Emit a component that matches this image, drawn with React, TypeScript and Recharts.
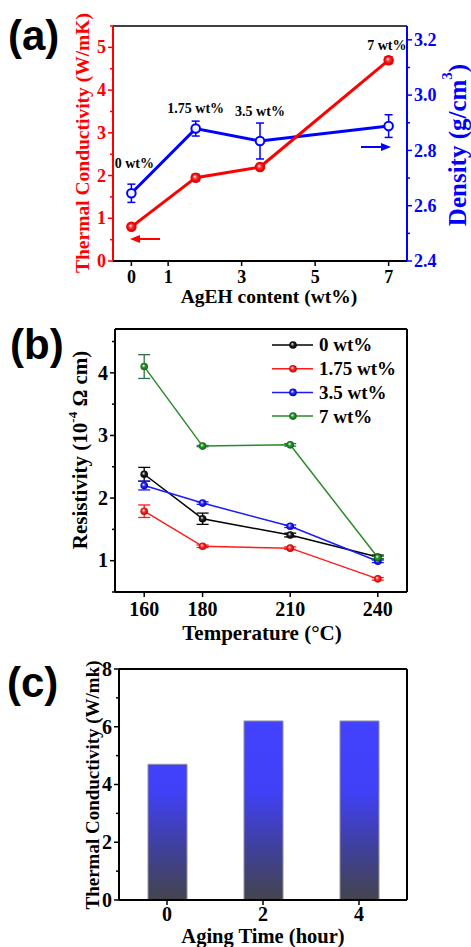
import {
  Bar,
  BarChart,
  ErrorBar,
  Line,
  LineChart,
  ReferenceDot,
  ReferenceLine,
  XAxis,
  YAxis,
} from "recharts";

const SERIF = "'Liberation Serif', 'Times New Roman', serif";
const SANS = "'Liberation Sans', Arial, sans-serif";

// (a) thermal conductivity + density vs AgEH content
const agehContent = [0, 1.75, 3.5, 7];
const contentLabels = ["0 wt%", "1.75 wt%", "3.5 wt%", "7 wt%"];
const thermalCond = [0.8, 1.95, 2.2, 4.7];
const thermalCondErr = [0.05, 0.08, 0.04, 0.08];
const density = [2.645, 2.879, 2.834, 2.888];
const densityErr = [0.033, 0.027, 0.065, 0.041];
const contentTicks = [0, 1, 3, 5, 7];
const condTicksA = [0, 0.5, 1, 1.5, 2, 2.5, 3, 3.5, 4, 4.5, 5, 5.5];
const densityTicks = [2.4, 2.5, 2.6, 2.7, 2.8, 2.9, 3.0, 3.1, 3.2];

// (b) resistivity vs temperature
const temperatures = [160, 180, 210, 240];
const res0 = [2.38, 1.67, 1.41, 1.06];
const res0Err = [0.11, 0.09, 0.03, 0.03];
const res175 = [1.79, 1.23, 1.2, 0.71];
const res175Err = [0.1, 0.02, 0.02, 0.02];
const res35 = [2.2, 1.92, 1.55, 0.99];
const res35Err = [0.07, 0.02, 0.02, 0.02];
const res7 = [4.1, 2.83, 2.85, 1.05];
const res7Err = [0.19, 0.01, 0.02, 0.02];
const tempTicks = [160, 180, 210, 240];
const resistTicks = [0.5, 1, 1.5, 2, 2.5, 3, 3.5, 4, 4.5];

// (c) thermal conductivity vs aging time
const agingTime = [0, 2, 4];
const agingCond = [4.7, 6.2, 6.2];
const agingTicks = [0, 2, 4];
const condTicksC = [0, 1, 2, 3, 4, 5, 6, 7, 8];

const dataA = agehContent.map((x, i) => ({
  x,
  tc: thermalCond[i],
  tcErr: thermalCondErr[i],
  den: density[i],
  denErr: densityErr[i],
}));

const dataB = temperatures.map((t, i) => ({
  t,
  r0: res0[i],
  e0: res0Err[i],
  r175: res175[i],
  e175: res175Err[i],
  r35: res35[i],
  e35: res35Err[i],
  r7: res7[i],
  e7: res7Err[i],
}));

const dataC = agingTime.map((x, i) => ({ x, v: agingCond[i] }));

const seriesB = [
  { key: "r0", err: "e0", name: "0 wt%", color: "#000000", errColor: "#000000", grad: "gBlack" },
  { key: "r175", err: "e175", name: "1.75 wt%", color: "#ff1a1a", errColor: "#ff1a1a", grad: "gRed" },
  { key: "r35", err: "e35", name: "3.5 wt%", color: "#1a1aff", errColor: "#1a1aff", grad: "gBlue" },
  { key: "r7", err: "e7", name: "7 wt%", color: "#2a8a2a", errColor: "#2f6f4f", grad: "gGreen" },
];

type TickOpts = {
  side: "left" | "right";
  color: string;
  fontSize: number;
  isMajor: (v: number) => boolean;
  fmt: (v: number) => string;
};

function makeYTick(o: TickOpts) {
  return (p: any) => {
    const v = p.payload.value as number;
    const major = o.isMajor(v);
    const len = major ? 5 : 3;
    const dir = o.side === "left" ? -1 : 1;
    return (
      <g>
        <line x1={p.x} x2={p.x + dir * len} y1={p.y} y2={p.y} stroke={o.color} strokeWidth={1.5} />
        {major && (
          <text
            x={p.x + dir * (len + 2)}
            y={p.y}
            dy="0.34em"
            textAnchor={o.side === "left" ? "end" : "start"}
            fill={o.color}
            fontFamily={SERIF}
            fontWeight={700}
            fontSize={o.fontSize}
          >
            {o.fmt(v)}
          </text>
        )}
      </g>
    );
  };
}

function makeXTick(fontSize: number, offset: number) {
  return (p: any) => (
    <g>
      <line x1={p.x} x2={p.x} y1={p.y} y2={p.y + 5} stroke="#000" strokeWidth={1.5} />
      <text
        x={p.x}
        y={p.y + offset}
        textAnchor="middle"
        fill="#000"
        fontFamily={SERIF}
        fontWeight={700}
        fontSize={fontSize}
      >
        {p.payload.value}
      </text>
    </g>
  );
}

const isInt = (v: number) => Math.abs(v - Math.round(v)) < 1e-6;
const isEvenTenth = (v: number) => Math.round(v * 10) % 2 === 0;

function Gloss({ id, color, dark }: { id: string; color: string; dark: string }) {
  return (
    <radialGradient id={id} cx="0.5" cy="0.5" r="0.5" fx="0.38" fy="0.35">
      <stop offset="0%" stopColor="#ffffff" />
      <stop offset="45%" stopColor={color} />
      <stop offset="100%" stopColor={dark} />
    </radialGradient>
  );
}

function PanelA() {
  return (
    <LineChart width={471} height={310} data={dataA} margin={{ top: 26, right: 14, bottom: 19, left: 73 }}>
      <defs>
        <Gloss id="aRed" color="#ff3030" dark="#d00000" />
      </defs>
      <XAxis
        type="number"
        dataKey="x"
        domain={[-0.5, 7.5]}
        ticks={contentTicks}
        interval={0}
        height={30}
        axisLine={{ stroke: "#000", strokeWidth: 2 }}
        tickLine={false}
        tickSize={0}
        tickMargin={0}
        tick={makeXTick(18, 22)}
      />
      <YAxis
        yAxisId="tc"
        type="number"
        domain={[0, 5.5]}
        ticks={condTicksA}
        interval={0}
        width={40}
        axisLine={{ stroke: "#ff0000", strokeWidth: 2 }}
        tickLine={false}
        tickSize={0}
        tickMargin={0}
        tick={makeYTick({ side: "left", color: "#ff0000", fontSize: 18, isMajor: isInt, fmt: (v) => String(v) })}
      />
      <YAxis
        yAxisId="den"
        orientation="right"
        type="number"
        domain={[2.4, 3.25]}
        ticks={densityTicks}
        interval={0}
        width={50}
        axisLine={{ stroke: "#0000ff", strokeWidth: 2 }}
        tickLine={false}
        tickSize={0}
        tickMargin={0}
        tick={makeYTick({ side: "right", color: "#0000ff", fontSize: 18, isMajor: isEvenTenth, fmt: (v) => v.toFixed(1) })}
      />
      <ReferenceLine yAxisId="tc" y={5.5} stroke="#000" strokeWidth={1.5} />
      <Line
        yAxisId="den"
        dataKey="den"
        stroke="#0000ff"
        strokeWidth={3}
        isAnimationActive={false}
        dot={(p: any) => (
          <circle key={`ad-${p.index}`} cx={p.cx} cy={p.cy} r={4.3} fill="#f4f4ff" stroke="#0000ff" strokeWidth={2} />
        )}
      >
        <ErrorBar dataKey="denErr" width={4} stroke="#0000ff" strokeWidth={1.5} />
      </Line>
      <Line
        yAxisId="tc"
        dataKey="tc"
        stroke="#ff0000"
        strokeWidth={3}
        isAnimationActive={false}
        dot={(p: any) => (
          <circle key={`at-${p.index}`} cx={p.cx} cy={p.cy} r={4.5} fill="url(#aRed)" stroke="#ee0000" strokeWidth={1.5} />
        )}
      >
        <ErrorBar dataKey="tcErr" width={4} stroke="#ff0000" strokeWidth={1.5} />
      </Line>
      {[
        { x: 0.08, y: 2.29 },
        { x: 1.75, y: 3.57 },
        { x: 3.5, y: 3.5 },
        { x: 6.95, y: 5.05 },
      ].map((pos, i) => (
        <ReferenceDot
          key={contentLabels[i]}
          yAxisId="tc"
          x={pos.x}
          y={pos.y}
          r={1}
          fill="none"
          stroke="none"
          ifOverflow="visible"
          label={{
            value: contentLabels[i],
            position: "center",
            fill: "#000",
            fontSize: 14,
            fontWeight: 700,
            fontFamily: SERIF,
          }}
        />
      ))}
    </LineChart>
  );
}

function PanelB() {
  return (
    <LineChart width={471} height={320} data={dataB} margin={{ top: 19, right: 64, bottom: 8, left: 75 }}>
      <defs>
        <Gloss id="gBlack" color="#222" dark="#000" />
        <Gloss id="gRed" color="#ff2a2a" dark="#c00000" />
        <Gloss id="gBlue" color="#2a2aff" dark="#0000b0" />
        <Gloss id="gGreen" color="#2a9a2a" dark="#106010" />
      </defs>
      <XAxis
        type="number"
        dataKey="t"
        domain={[150, 250]}
        ticks={tempTicks}
        interval={0}
        height={30}
        axisLine={{ stroke: "#000", strokeWidth: 2 }}
        tickLine={false}
        tickSize={0}
        tickMargin={0}
        tick={makeXTick(20, 24)}
      />
      <YAxis
        type="number"
        domain={[0.5, 4.7]}
        ticks={resistTicks}
        interval={0}
        width={40}
        axisLine={{ stroke: "#000", strokeWidth: 2 }}
        tickLine={false}
        tickSize={0}
        tickMargin={0}
        tick={makeYTick({ side: "left", color: "#000", fontSize: 20, isMajor: isInt, fmt: (v) => String(v) })}
      />
      <ReferenceLine y={4.7} stroke="#000" strokeWidth={2} />
      <ReferenceLine x={250} stroke="#000" strokeWidth={2} />
      {seriesB.map((s) => (
        <Line
          key={s.key}
          dataKey={s.key}
          stroke={s.color}
          strokeWidth={1.5}
          isAnimationActive={false}
          dot={(p: any) => (
            <circle key={`${s.key}-${p.index}`} cx={p.cx} cy={p.cy} r={3.8} fill={`url(#${s.grad})`} stroke="none" />
          )}
        >
          <ErrorBar dataKey={s.err} width={6} stroke={s.errColor} strokeWidth={1.3} />
        </Line>
      ))}
    </LineChart>
  );
}

function PanelC() {
  return (
    <BarChart width={471} height={317} data={dataC} margin={{ top: 39, right: 64, bottom: 17, left: 79 }}>
      <defs>
        <linearGradient id="barFill" gradientUnits="userSpaceOnUse" x1="0" y1="91" x2="0" y2="270">
          <stop offset="0%" stopColor="#4343ff" />
          <stop offset="40%" stopColor="#4040f6" />
          <stop offset="70%" stopColor="#40409e" />
          <stop offset="100%" stopColor="#44444c" />
        </linearGradient>
      </defs>
      <XAxis
        type="number"
        dataKey="x"
        domain={[-1, 5]}
        ticks={agingTicks}
        interval={0}
        height={30}
        axisLine={{ stroke: "#000", strokeWidth: 2 }}
        tickLine={false}
        tickSize={0}
        tickMargin={0}
        tick={makeXTick(20, 21)}
      />
      <YAxis
        type="number"
        domain={[0, 8]}
        ticks={condTicksC}
        interval={0}
        width={40}
        axisLine={{ stroke: "#000", strokeWidth: 2 }}
        tickLine={false}
        tickSize={0}
        tickMargin={0}
        tick={makeYTick({ side: "left", color: "#000", fontSize: 20, isMajor: (v) => isInt(v / 2), fmt: (v) => String(v) })}
      />
      <ReferenceLine y={8} stroke="#000" strokeWidth={2} />
      <ReferenceLine x={5} stroke="#000" strokeWidth={2} />
      <Bar dataKey="v" barSize={39} fill="url(#barFill)" stroke="#9090a0" strokeWidth={1} isAnimationActive={false} />
    </BarChart>
  );
}

function Overlay() {
  const bold = { fontFamily: SERIF, fontWeight: 700 } as const;
  return (
    <svg
      width={471}
      height={947}
      style={{ position: "absolute", left: 0, top: 0, pointerEvents: "none", overflow: "visible" }}
    >
      <defs>
        <Gloss id="lBlack" color="#222" dark="#000" />
        <Gloss id="lRed" color="#ff2a2a" dark="#c00000" />
        <Gloss id="lBlue" color="#2a2aff" dark="#0000b0" />
        <Gloss id="lGreen" color="#2a9a2a" dark="#106010" />
      </defs>
      {/* panel letters */}
      <text x={8} y={50} fontFamily={SANS} fontWeight={700} fontSize={42}>(a)</text>
      <text x={10} y={359} fontFamily={SANS} fontWeight={700} fontSize={42}>(b)</text>
      <text x={7} y={697} fontFamily={SANS} fontWeight={700} fontSize={42}>(c)</text>

      {/* (a) titles */}
      <text transform="translate(82,143) rotate(-90)" textAnchor="middle" dominantBaseline="central" fill="#ff0000" fontSize={19.5} {...bold}>
        Thermal Conductivity (W/mK)
      </text>
      <text transform="translate(457,145) rotate(-90)" textAnchor="middle" dominantBaseline="central" fill="#0000ff" fontSize={25} {...bold}>
        Density (g/cm<tspan dy={-10} fontSize={15}>3</tspan>
        <tspan dy={10}>)</tspan>
      </text>
      <text x={269} y={303} textAnchor="middle" fill="#000" fontSize={19.5} {...bold}>
        AgEH content (wt%)
      </text>
      {/* (a) arrows */}
      <line x1={136} y1={239} x2={160} y2={239} stroke="#ff0000" strokeWidth={2} />
      <polygon points="130,239 140,235 140,243" fill="#ff0000" />
      <line x1={361} y1={147} x2={385} y2={147} stroke="#0000ff" strokeWidth={2} />
      <polygon points="391,147 381,143 381,151" fill="#0000ff" />

      {/* (b) titles */}
      <text transform="translate(80,450) rotate(-90)" textAnchor="middle" dominantBaseline="central" fill="#000" fontSize={21} {...bold}>
        Resistivity (10<tspan dy={-8} fontSize={13}>-4</tspan>
        <tspan dy={8}> Ω cm)</tspan>
      </text>
      <text x={262} y={640} textAnchor="middle" fill="#000" fontSize={21} {...bold}>
        Temperature (°C)
      </text>
      {/* (b) legend */}
      {seriesB.map((s, i) => {
        const y = 345 + i * 23.7;
        return (
          <g key={s.key}>
            <line x1={272} x2={313} y1={y} y2={y} stroke={s.color} strokeWidth={1.5} />
            <circle cx={293} cy={y} r={3.8} fill={`url(#l${s.grad.slice(1)})`} />
            <text x={319} y={y} dy="0.34em" fill="#000" fontSize={19} {...bold}>
              {s.name}
            </text>
          </g>
        );
      })}

      {/* (c) titles */}
      <text transform="translate(92,785) rotate(-90)" textAnchor="middle" dominantBaseline="central" fill="#000" fontSize={19} {...bold}>
        Thermal Conductivity (W/mk)
      </text>
      <text x={263} y={943} textAnchor="middle" fill="#000" fontSize={20.5} {...bold}>
        Aging Time (hour)
      </text>
    </svg>
  );
}

export default function App() {
  return (
    <div style={{ position: "absolute", left: 0, top: 0, width: 471, height: 947, background: "#fff", overflow: "hidden" }}>
      <div style={{ position: "absolute", left: 0, top: 0 }}>
        <PanelA />
      </div>
      <div style={{ position: "absolute", left: 0, top: 310 }}>
        <PanelB />
      </div>
      <div style={{ position: "absolute", left: 0, top: 630 }}>
        <PanelC />
      </div>
      <Overlay />
    </div>
  );
}
